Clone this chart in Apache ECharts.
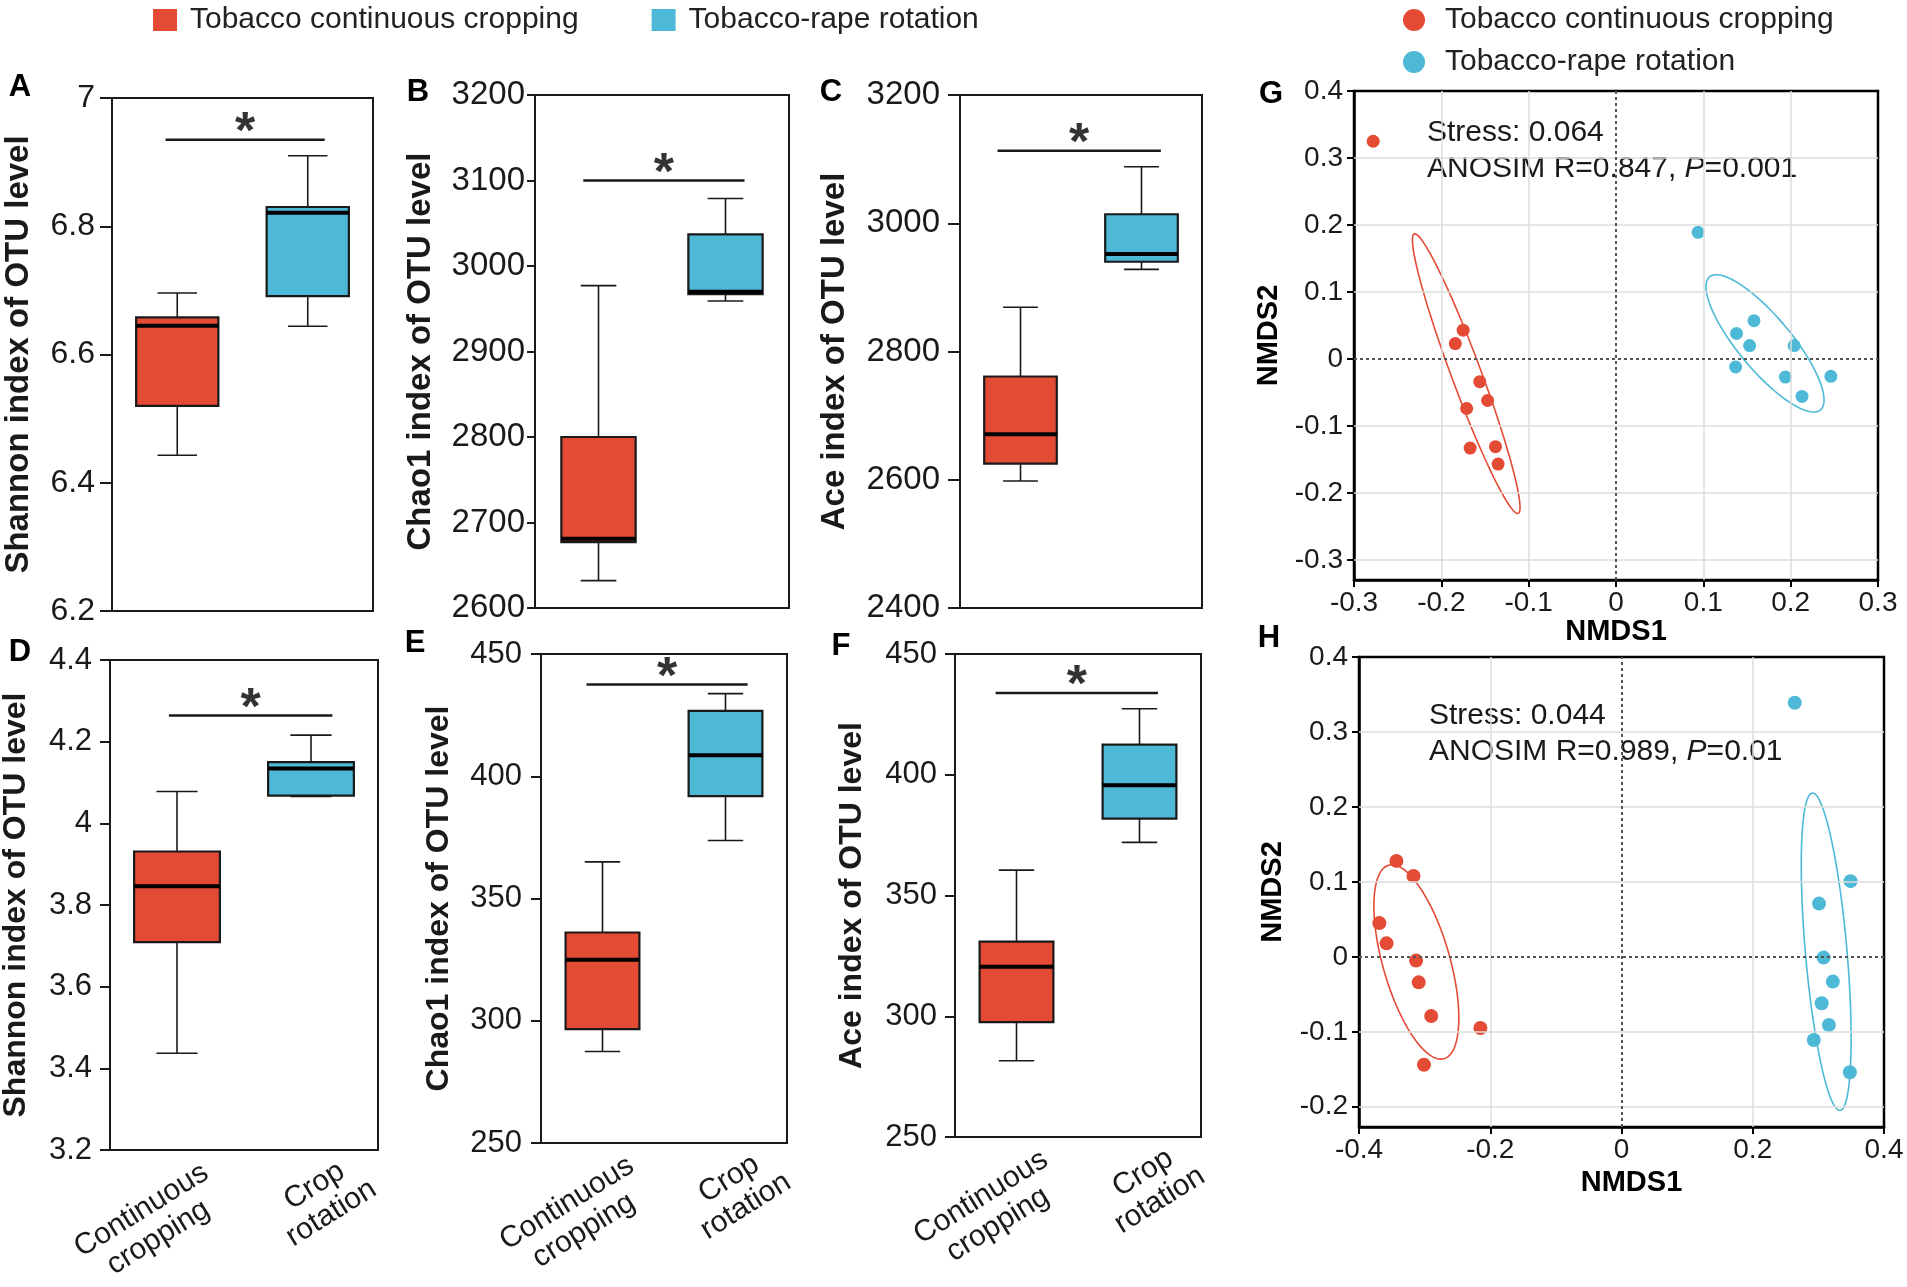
<!DOCTYPE html>
<html>
<head>
<meta charset="utf-8">
<script src="https://cdn.jsdelivr.net/npm/echarts@6/dist/echarts.min.js"></script>
<style>
html, body { margin: 0; padding: 0; background: #fff; }
#charts { width: 1907px; height: 1287px; }
</style>
</head>
<body>
<div id="charts"></div>
<script>
var myChart = echarts.init(document.getElementById('charts'));
var FONT = 'Liberation Sans, Arial, sans-serif';
var INK = '#1a1a1a';

var groups = ['Tobacco continuous cropping', 'Tobacco-rape rotation'];
var categories = ['Continuous\ncropping', 'Crop\nrotation'];
var colors = ['#E44B35', '#4DB9D6'];

// box stats per group: [min, q1, median, q3, max]
var shannonA = [[6.443, 6.52, 6.645, 6.658, 6.696], [6.644, 6.691, 6.821, 6.83, 6.91]];
var chao1B = [[2632, 2677, 2681, 2800, 2977], [2959, 2967, 2970, 3037, 3079]];
var aceC = [[2598, 2625, 2671, 2761, 2869], [2928, 2940, 2952, 3014, 3088]];
var shannonD = [[3.437, 3.709, 3.846, 3.931, 4.078], [4.066, 4.068, 4.134, 4.150, 4.216]];
var chao1E = [[287.4, 296.6, 325, 336.1, 365], [373.7, 391.9, 408.6, 426.7, 433.8]];
var aceF = [[281.6, 297.6, 320.5, 330.9, 360.5], [372, 381.8, 395.7, 412.5, 427.3]];

// significance bar: [from, to, y]  (x on a -0.5..1.5 group scale)
var sigA = [-0.09, 1.13, 6.935];
var sigB = [-0.12, 1.15, 3100];
var sigC = [-0.19, 1.16, 3113];
var sigD = [-0.06, 1.16, 4.264];
var sigE = [-0.13, 1.18, 437.5];
var sigF = [-0.17, 1.15, 433.8];

// y axis: [min, max, step]
var ticksA = [6.2, 7, 0.2];
var ticksB = [2600, 3200, 100];
var ticksC = [2400, 3200, 200];
var ticksD = [3.2, 4.4, 0.2];
var ticksE = [250, 450, 50];
var ticksF = [250, 450, 50];

// NMDS scores [NMDS1, NMDS2]
var nmdsContG = [[-0.278, 0.325], [-0.175, 0.043], [-0.184, 0.023], [-0.156, -0.034], [-0.147, -0.062],
  [-0.171, -0.074], [-0.167, -0.133], [-0.138, -0.131], [-0.135, -0.157]];
var nmdsRotG = [[0.094, 0.189], [0.138, 0.038], [0.158, 0.057], [0.153, 0.020], [0.204, 0.020],
  [0.137, -0.012], [0.194, -0.027], [0.246, -0.026], [0.213, -0.056]];
var nmdsContH = [[-0.343, 0.128], [-0.317, 0.108], [-0.369, 0.045], [-0.358, 0.018], [-0.313, -0.005],
  [-0.309, -0.034], [-0.290, -0.079], [-0.215, -0.095], [-0.301, -0.144]];
var nmdsRotH = [[0.264, 0.339], [0.349, 0.101], [0.301, 0.071], [0.308, -0.001], [0.322, -0.033],
  [0.305, -0.062], [0.316, -0.091], [0.293, -0.111], [0.348, -0.154]];

// confidence ellipses: [cx, cy, semi-axis 1 (dx, dy), semi-axis 2 (dx, dy)]
var ellipseG = [[-0.1715, -0.022, 0.0595, -0.2087, -0.016, -0.0075],
  [0.1706, 0.0232, 0.0633, -0.0995, -0.0238, -0.0246]];
var ellipseH = [[-0.3126, -0.0068, 0.0423, -0.1291, -0.049, -0.0126],
  [0.3119, 0.0068, 0.0211, -0.2118, -0.0316, -0.0025]];

var gXTicks = [-0.3, 0.3, 0.1];
var gYTicks = [-0.3, -0.2, -0.1, 0, 0.1, 0.2, 0.3, 0.4];
var gYMin = -0.33;
var hXTicks = [-0.4, 0.4, 0.2];
var hYTicks = [-0.2, -0.1, 0, 0.1, 0.2, 0.3, 0.4];
var hYMin = -0.227;

var statsG = ['Stress: 0.064', 'ANOSIM R=0.847, {i|P}=0.001'];
var statsH = ['Stress: 0.044', 'ANOSIM R=0.989, {i|P}=0.01'];

var boxPanels = [
  {letter: 'A', at: [20, 87], stats: shannonA, sig: sigA, ticks: ticksA, title: 'Shannon index of OTU level',
    grid: [112, 98, 261, 513], nameGap: 77, margin: 17, tickLen: 12, boxW: 0.63, font: 32, titleFont: 33, cats: false},
  {letter: 'B', at: [418, 92], stats: chao1B, sig: sigB, ticks: ticksB, title: 'Chao1 index of OTU level',
    grid: [535, 95, 254, 513], nameGap: 98, margin: 10, tickLen: 8, boxW: 0.585, font: 33, titleFont: 33, cats: false},
  {letter: 'C', at: [831, 92], stats: aceC, sig: sigC, ticks: ticksC, title: 'Ace index of OTU level',
    grid: [960, 95, 242, 513], nameGap: 109, margin: 20, tickLen: 12, boxW: 0.6, font: 33, titleFont: 33, cats: false},
  {letter: 'D', at: [20, 652], stats: shannonD, sig: sigD, ticks: ticksD, title: 'Shannon index of OTU level',
    grid: [110, 660, 268, 490], nameGap: 78, margin: 18, tickLen: 10, boxW: 0.64, font: 31, titleFont: 32, cats: true},
  {letter: 'E', at: [415, 643], stats: chao1E, sig: sigE, ticks: ticksE, title: 'Chao1 index of OTU level',
    grid: [541, 654, 246, 489], nameGap: 86, margin: 19, tickLen: 10, boxW: 0.6, font: 31, titleFont: 32, cats: true},
  {letter: 'F', at: [841, 646], stats: aceF, sig: sigF, ticks: ticksF, title: 'Ace index of OTU level',
    grid: [955, 654, 246, 483], nameGap: 87, margin: 18, tickLen: 10, boxW: 0.6, font: 31, titleFont: 32, cats: true}
];

function plainNumber(v) { return String(v); }

function boxRenderer(boxW) {
  return function (params, api) {
    var x = api.value(0);
    var lo = api.coord([x, api.value(1)]);
    var q1 = api.coord([x, api.value(2)]);
    var md = api.coord([x, api.value(3)]);
    var q3 = api.coord([x, api.value(4)]);
    var hi = api.coord([x, api.value(5)]);
    var w = api.size([boxW, 0])[0];
    var cx = lo[0], cap = w * 0.24;
    var thin = {stroke: INK, lineWidth: 1.6};
    return {type: 'group', children: [
      {type: 'line', shape: {x1: cx, y1: hi[1], x2: cx, y2: q3[1]}, style: thin},
      {type: 'line', shape: {x1: cx, y1: q1[1], x2: cx, y2: lo[1]}, style: thin},
      {type: 'line', shape: {x1: cx - cap, y1: hi[1], x2: cx + cap, y2: hi[1]}, style: thin},
      {type: 'line', shape: {x1: cx - cap, y1: lo[1], x2: cx + cap, y2: lo[1]}, style: thin},
      {type: 'rect', shape: {x: cx - w / 2, y: q3[1], width: w, height: q1[1] - q3[1]},
        style: {fill: colors[params.dataIndex], stroke: INK, lineWidth: 2.2}},
      {type: 'line', shape: {x1: cx - w / 2, y1: md[1], x2: cx + w / 2, y2: md[1]},
        style: {stroke: '#000', lineWidth: 4}}
    ]};
  };
}

function ellipseRenderer(params, api) {
  var cx = api.value(0), cy = api.value(1);
  var ax = api.value(2), ay = api.value(3), bx = api.value(4), by = api.value(5);
  var pts = [];
  for (var k = 0; k <= 96; k++) {
    var t = Math.PI * 2 * k / 96;
    pts.push(api.coord([cx + ax * Math.cos(t) + bx * Math.sin(t), cy + ay * Math.cos(t) + by * Math.sin(t)]));
  }
  return {type: 'polyline', shape: {points: pts}, style: {fill: 'none', stroke: colors[params.dataIndex], lineWidth: 1.6}};
}

var grid = [], xAxis = [], yAxis = [], series = [], graphic = [];

boxPanels.forEach(function (p, i) {
  grid.push({left: p.grid[0], top: p.grid[1], width: p.grid[2], height: p.grid[3], outerBoundsMode: 'none',
    show: true, borderColor: INK, borderWidth: 2, backgroundColor: 'transparent'});
  var catData = categories.map(function (c, k) {
    var pad = k === 0 ? [0, 64, 0, 0] : [27, 0, 0, 28];
    return {value: c, textStyle: {align: 'center', verticalAlign: 'middle', padding: pad}};
  });
  xAxis.push({type: 'category', gridIndex: i, data: catData, boundaryGap: true,
    axisLine: {onZero: false, lineStyle: {color: INK, width: 2}},
    axisTick: {alignWithLabel: true, length: 10, lineStyle: {color: INK, width: 2}},
    axisLabel: p.cats ? {interval: 0, hideOverlap: false, rotate: 32, align: 'center', verticalAlign: 'middle',
      margin: 57, fontSize: 30, lineHeight: 32, color: INK, fontFamily: FONT} : {show: false}});
  xAxis.push({type: 'value', gridIndex: i, min: -0.5, max: 1.5, show: false});
  yAxis.push({type: 'value', gridIndex: i, min: p.ticks[0], max: p.ticks[1], interval: p.ticks[2],
    name: p.title, nameLocation: 'middle', nameGap: p.nameGap,
    nameTextStyle: {fontSize: p.titleFont, fontWeight: 'bold', color: INK, fontFamily: FONT},
    axisLine: {show: true, onZero: false, lineStyle: {color: INK, width: 2}},
    axisTick: {show: true, length: p.tickLen, lineStyle: {color: INK, width: 2}},
    axisLabel: {fontSize: p.font, margin: p.margin, color: INK, fontFamily: FONT, formatter: plainNumber},
    splitLine: {show: false}});
  series.push({type: 'custom', xAxisIndex: 2 * i + 1, yAxisIndex: i,
    renderItem: boxRenderer(p.boxW),
    encode: {x: 0, y: [1, 2, 3, 4, 5]},
    data: p.stats.map(function (s, k) { return [k].concat(s); })});
  series.push({type: 'line', xAxisIndex: 2 * i + 1, yAxisIndex: i, symbol: 'none',
    lineStyle: {color: INK, width: 2.5},
    data: [[p.sig[0], p.sig[2]], [p.sig[1], p.sig[2]]]});
  series.push({type: 'scatter', xAxisIndex: 2 * i + 1, yAxisIndex: i, symbolSize: 0.1,
    itemStyle: {color: 'rgba(0,0,0,0)'},
    label: {show: true, position: 'inside', offset: [0, -6], formatter: '*',
      fontSize: 52, fontWeight: 'bold', color: '#000', fontFamily: FONT},
    data: [[(p.sig[0] + p.sig[1]) / 2, p.sig[2]]]});
  graphic.push({type: 'text', x: p.at[0], y: p.at[1],
    style: {text: p.letter, font: 'bold 31px ' + FONT, fill: '#000', align: 'center', verticalAlign: 'middle'}});
});

var nmdsPanels = [
  {letter: 'G', at: [1271, 94], grid: [1354, 91, 524, 489], xt: gXTicks, yt: gYTicks, ymin: gYMin,
    cont: nmdsContG, rot: nmdsRotG, ell: ellipseG, text: statsG, textAt: [1427, 133], dot: 13,
    xGap: 37, yGap: 71, xPad: 0},
  {letter: 'H', at: [1269, 638], grid: [1359, 657, 525, 470], xt: hXTicks, yt: hYTicks, ymin: hYMin,
    cont: nmdsContH, rot: nmdsRotH, ell: ellipseH, text: statsH, textAt: [1429, 716], dot: 14,
    xGap: 41, yGap: 72, xPad: 20}
];

nmdsPanels.forEach(function (p, j) {
  var gi = 6 + j, xi = 12 + j, yi = 6 + j;
  grid.push({left: p.grid[0], top: p.grid[1], width: p.grid[2], height: p.grid[3], outerBoundsMode: 'none',
    show: true, borderColor: '#000', borderWidth: 2.5, backgroundColor: 'transparent'});
  xAxis.push({type: 'value', gridIndex: gi, min: p.xt[0], max: p.xt[1], interval: p.xt[2],
    name: 'NMDS1', nameLocation: 'middle', nameGap: p.xGap,
    nameTextStyle: {fontSize: 29, fontWeight: 'bold', color: '#000', fontFamily: FONT, padding: [0, 0, 0, p.xPad]},
    axisLine: {onZero: false, lineStyle: {color: '#000', width: 2.5}},
    axisTick: {show: true, length: 7, lineStyle: {color: '#000', width: 2}},
    axisLabel: {fontSize: 28, margin: 9, color: INK, fontFamily: FONT},
    splitLine: {show: false}});
  yAxis.push({type: 'value', gridIndex: gi, min: p.ymin, max: p.yt[p.yt.length - 1],
    name: 'NMDS2', nameLocation: 'middle', nameGap: p.yGap,
    nameTextStyle: {fontSize: 29, fontWeight: 'bold', color: '#000', fontFamily: FONT},
    axisLine: {show: true, onZero: false, lineStyle: {color: '#000', width: 2.5}},
    axisTick: {show: true, length: 7, customValues: p.yt, lineStyle: {color: '#000', width: 2}},
    axisLabel: {fontSize: 28, margin: 11, color: INK, fontFamily: FONT, customValues: p.yt},
    splitLine: {show: false}});

  var gridLines = [];
  for (var v = p.xt[0] + p.xt[2]; v < p.xt[1] - 1e-9; v += p.xt[2]) {
    if (Math.abs(v) > 1e-9) gridLines.push({xAxis: +v.toFixed(3)});
  }
  p.yt.forEach(function (t) {
    if (t !== 0 && t < p.yt[p.yt.length - 1]) gridLines.push({yAxis: t});
  });
  series.push({type: 'line', xAxisIndex: xi, yAxisIndex: yi, data: [], z: 1,
    markLine: {silent: true, symbol: ['none', 'none'], label: {show: false},
      lineStyle: {color: '#dcdcdc', type: 'solid', width: 1.5}, data: gridLines}});
  series.push({type: 'line', xAxisIndex: xi, yAxisIndex: yi, data: [], z: 2,
    markLine: {silent: true, symbol: ['none', 'none'], label: {show: false},
      lineStyle: {color: '#555', type: [3, 3], width: 2}, data: [{xAxis: 0}, {yAxis: 0}]}});
  series.push({type: 'custom', xAxisIndex: xi, yAxisIndex: yi, z: 3,
    renderItem: ellipseRenderer, data: p.ell});
  series.push({type: 'scatter', name: groups[0], xAxisIndex: xi, yAxisIndex: yi, z: 4,
    symbolSize: p.dot, itemStyle: {color: colors[0], opacity: 1}, data: p.cont});
  series.push({type: 'scatter', name: groups[1], xAxisIndex: xi, yAxisIndex: yi, z: 4,
    symbolSize: p.dot, itemStyle: {color: colors[1], opacity: 1}, data: p.rot});

  graphic.push({type: 'text', x: p.at[0], y: p.at[1],
    style: {text: p.letter, font: 'bold 31px ' + FONT, fill: '#000', align: 'center', verticalAlign: 'middle'}});
  p.text.forEach(function (line, k) {
    graphic.push({type: 'text', x: p.textAt[0], y: p.textAt[1] + k * 36,
      style: {text: line, font: '30px ' + FONT, fill: INK, align: 'left', verticalAlign: 'middle',
        rich: {i: {fontStyle: 'italic', fontSize: 30, fontFamily: FONT, fill: INK}}}});
  });
});

myChart.setOption({
  animation: false,
  backgroundColor: '#fff',
  legend: [
    {left: 148, top: 0, itemWidth: 24, itemHeight: 22, itemGap: 73, icon: 'rect', selectedMode: false,
      data: groups, textStyle: {fontSize: 30, color: '#222', fontFamily: FONT, padding: [0, 0, 0, 8]}},
    {left: 1398, top: 0, orient: 'vertical', itemWidth: 22, itemHeight: 22, itemGap: 12, icon: 'circle',
      selectedMode: false, data: groups,
      textStyle: {fontSize: 30, color: '#222', fontFamily: FONT, padding: [0, 0, 0, 15]}}
  ],
  grid: grid,
  xAxis: xAxis,
  yAxis: yAxis,
  series: series,
  graphic: graphic
});
</script>
</body>
</html>
